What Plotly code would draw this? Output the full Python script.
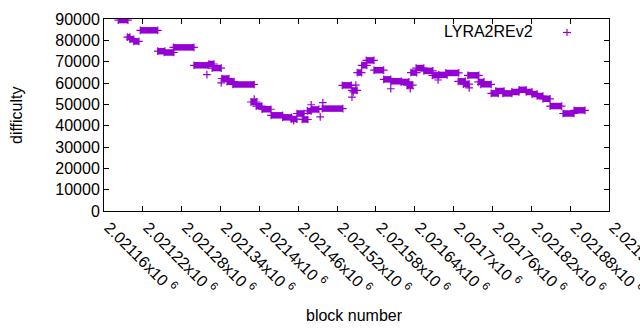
import plotly.graph_objects as go

# Runs of constant difficulty: first block, last block, difficulty
run_start = [2021182, 2021196, 2021200, 2021206, 2021216, 2021243, 2021253, 2021267,
             2021299, 2021322, 2021327, 2021342, 2021350, 2021359, 2021387, 2021395,
             2021404, 2021418, 2021436, 2021449, 2021458, 2021466, 2021474, 2021481,
             2021497, 2021528, 2021543, 2021551, 2021558, 2021565, 2021577, 2021592,
             2021603, 2021619, 2021628, 2021634, 2021642, 2021654, 2021667, 2021677,
             2021688, 2021707, 2021715, 2021722, 2021738, 2021742, 2021758, 2021765,
             2021776, 2021790, 2021801, 2021812, 2021821, 2021829, 2021838, 2021849,
             2021869, 2021886]
run_end = [2021197, 2021200, 2021206, 2021214, 2021243, 2021254, 2021268, 2021299,
           2021321, 2021330, 2021341, 2021353, 2021361, 2021392, 2021396, 2021404,
           2021418, 2021436, 2021450, 2021458, 2021469, 2021475, 2021480, 2021492,
           2021529, 2021542, 2021551, 2021558, 2021566, 2021577, 2021592, 2021603,
           2021619, 2021631, 2021637, 2021643, 2021654, 2021668, 2021677, 2021690,
           2021708, 2021718, 2021724, 2021739, 2021747, 2021758, 2021769, 2021778,
           2021790, 2021801, 2021812, 2021821, 2021829, 2021838, 2021849, 2021867,
           2021886, 2021903]
run_diff = [89500, 81500, 80500, 79500, 84700, 74900, 74300, 76700,
            68300, 68900, 67000, 62100, 60600, 59300, 51100, 49200,
            47700, 44850, 43900, 43100, 45700, 42900, 46900, 47600,
            48000, 58900, 56500, 64900, 68300, 70600, 66000, 61700,
            60800, 60500, 59000, 64900, 67000, 65700, 63600, 63800,
            64700, 60800, 59500, 63600, 60500, 59400, 55100, 56250,
            55100, 55800, 56800, 55800, 54800, 53900, 52600, 49200,
            45700, 47200]

# Isolated blocks
single_block = [2021319, 2021341, 2021392, 2021453, 2021480, 2021494, 2021498,
                2021543, 2021545, 2021549, 2021603, 2021633, 2021676, 2021724]
single_diff = [63900, 60100, 52500, 42300, 49800, 44100, 50800,
               53400, 55800, 59000, 57300, 57300, 61400, 57700]

x_tickvals = [2021160 + 60 * i for i in range(14)]
x_ticktext = ["2.02116", "2.02122", "2.02128", "2.02134", "2.0214", "2.02146", "2.02152",
              "2.02158", "2.02164", "2.0217", "2.02176", "2.02182", "2.02188", "2.02194"]
y_tickvals = [0, 10000, 20000, 30000, 40000, 50000, 60000, 70000, 80000, 90000]
y_ticktext = ["0", "10000", "20000", "30000", "40000", "50000", "60000", "70000", "80000", "90000"]

COLOR = "#9400d3"
FONT = "Liberation Sans"

xs, ys = [], []
for s, e, d in zip(run_start, run_end, run_diff):
    xs += [s, e, None]
    ys += [d, d, None]

fig = go.Figure()
fig.add_trace(go.Scatter(
    x=xs, y=ys, mode="lines+markers",
    line=dict(color=COLOR, width=6.5),
    marker=dict(symbol="cross-thin", size=5.5, line=dict(color=COLOR, width=1.2)),
    showlegend=False, hoverinfo="skip"))
fig.add_trace(go.Scatter(
    x=single_block, y=single_diff, mode="markers",
    marker=dict(symbol="cross-thin", size=5.5, line=dict(color=COLOR, width=1.2)),
    showlegend=False, hoverinfo="skip"))

axis_common = dict(showline=True, linecolor="black", linewidth=1, mirror="allticks",
                   ticks="inside", ticklen=5, tickcolor="black", showgrid=False,
                   zeroline=False, automargin=False,
                   tickfont=dict(family=FONT, size=16, color="black"))

fig.update_xaxes(range=[2021160, 2021940], tickmode="array", tickvals=x_tickvals,
                 ticktext=[t + "x10 <sup>6</sup>" for t in x_ticktext], tickangle=45,
                 ticklabeloverflow="allow", ticklabelshift=5, **axis_common)
fig.update_yaxes(range=[0, 90000], tickmode="array", tickvals=y_tickvals,
                 ticktext=y_ticktext, **axis_common)

W0, W1, H0, H1 = 104, 609, 19, 211
def px(xp):
    return (xp - W0) / (W1 - W0)
def py(yp):
    return (H1 - yp) / (H1 - H0)

fig.add_annotation(text="difficulty", xref="paper", yref="paper", x=px(16), y=py(115),
                   textangle=-90, showarrow=False, xanchor="center", yanchor="middle",
                   font=dict(family=FONT, size=16, color="black"))
fig.add_annotation(text="block number", xref="paper", yref="paper", x=px(354), y=py(315),
                   showarrow=False, xanchor="center", yanchor="middle",
                   font=dict(family=FONT, size=16, color="black"))
fig.add_annotation(text="LYRA2REv2", xref="paper", yref="paper", x=px(535), y=py(31.5),
                   showarrow=False, xanchor="right", yanchor="middle",
                   font=dict(family=FONT, size=16, color="black"))
# legend sample "+"
fig.add_shape(type="line", xref="paper", yref="paper", xsizemode="pixel", ysizemode="pixel",
              xanchor=px(567), yanchor=py(32.5), x0=-4, x1=4, y0=0, y1=0,
              line=dict(color=COLOR, width=1.2))
fig.add_shape(type="line", xref="paper", yref="paper", xsizemode="pixel", ysizemode="pixel",
              xanchor=px(567), yanchor=py(32.5), x0=0, x1=0, y0=-3.5, y1=3.5,
              line=dict(color=COLOR, width=1.2))

fig.update_layout(width=640, height=330, margin=dict(l=W0, r=640 - W1, t=H0, b=330 - H1),
                  paper_bgcolor="white", plot_bgcolor="white", showlegend=False)

fig.write_html("out.html", config={"displayModeBar": False},
               post_script="document.body.style.margin='0';document.body.style.overflow='hidden';")
